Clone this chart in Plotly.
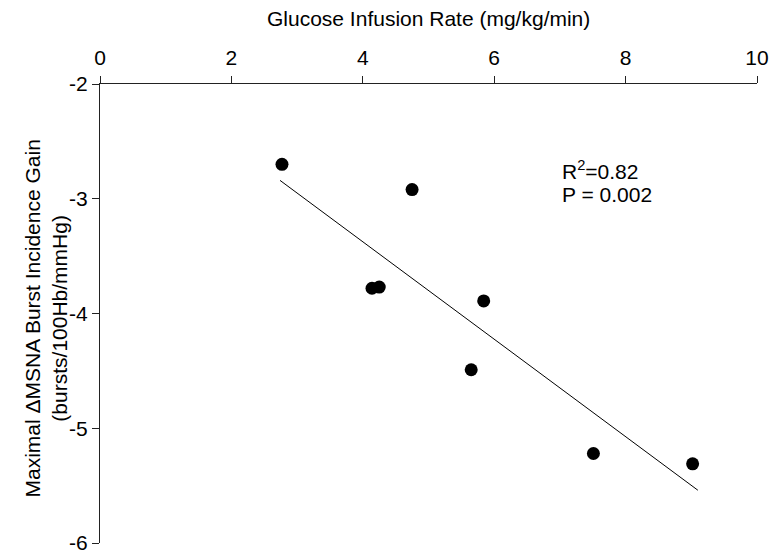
import plotly.graph_objects as go

# Data
gir = [2.77, 4.75, 4.14, 4.25, 5.84, 5.65, 7.51, 9.02]          # Glucose infusion rate (mg/kg/min)
gain = [-2.70, -2.92, -3.78, -3.77, -3.89, -4.49, -5.22, -5.31]  # Maximal dMSNA burst incidence gain
fit_x = [2.74, 9.10]
fit_y = [-2.84, -5.54]
x_ticks = [0, 2, 4, 6, 8, 10]
y_ticks = [-6, -5, -4, -3, -2]
y_tick_text = ["-6", "-5", "-4", "-3", "-2"]

FONT = "Liberation Sans, Arial, Helvetica, sans-serif"
FS = 21

fig = go.Figure()
fig.add_trace(go.Scatter(x=fit_x, y=fit_y, mode="lines",
                         line=dict(color="black", width=1), showlegend=False,
                         hoverinfo="skip"))
fig.add_trace(go.Scatter(x=gir, y=gain, mode="markers",
                         marker=dict(color="black", size=13), showlegend=False))

fig.update_layout(
    width=784, height=553,
    margin=dict(l=100, r=27, t=84, b=10),
    paper_bgcolor="white", plot_bgcolor="white",
    font=dict(family=FONT, size=FS, color="black"),
    xaxis=dict(range=[0, 10], side="top", tickvals=x_ticks, ticks="outside",
               ticklen=7, tickwidth=1, tickcolor="#222", showline=True,
               linecolor="#222", linewidth=1, showgrid=False, zeroline=False,
               ticklabelstandoff=3, tickfont=dict(size=FS), automargin=False,
               ticklabeloverflow="allow"),
    yaxis=dict(range=[-6, -2], tickvals=y_ticks, ticktext=y_tick_text,
               ticks="outside", ticklen=7, tickwidth=1, tickcolor="#222",
               showline=True, linecolor="#222", linewidth=1, showgrid=False,
               zeroline=False, tickfont=dict(size=FS), automargin=False,
               ticklabeloverflow="allow"),
    annotations=[
        dict(text="Glucose Infusion Rate (mg/kg/min)", xref="paper", yref="paper",
             x=0.5, y=1, xanchor="center", yanchor="middle", yshift=66,
             showarrow=False, font=dict(size=FS)),
        dict(text="Maximal \u0394MSNA Burst Incidence Gain<br>(bursts/100Hb/mmHg)",
             xref="paper", yref="paper", x=0, y=0.5, xanchor="center",
             yanchor="middle", xshift=-55, yshift=-5, textangle=-90,
             showarrow=False, font=dict(size=FS)),
        dict(text="R<sup>2</sup>=0.82", xref="x", yref="y",
             x=7.0, y=-2.75, xanchor="left", yanchor="middle", align="left",
             showarrow=False, font=dict(size=FS)),
        dict(text="P = 0.002", xref="x", yref="y",
             x=7.0, y=-2.96, xanchor="left", yanchor="middle", align="left",
             showarrow=False, font=dict(size=FS)),
    ],
)

fig.write_html("out.html", config={"displayModeBar": False},
               post_script="document.body.style.margin='0px';")
